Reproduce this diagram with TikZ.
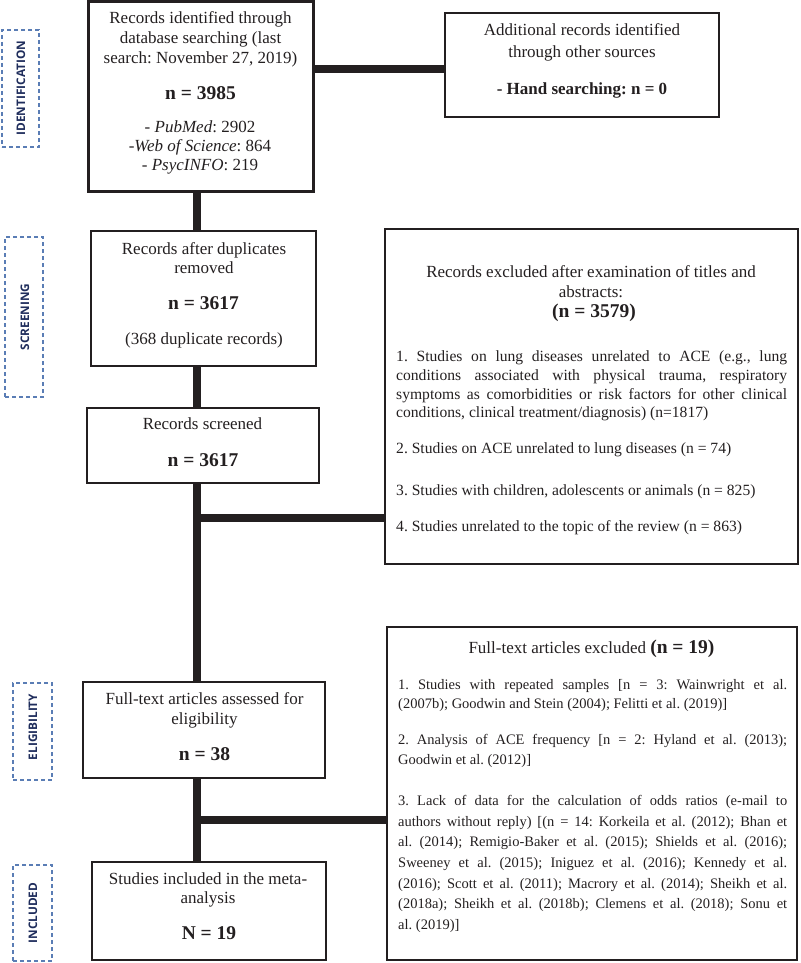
\documentclass[tikz,border=0pt]{standalone}
\usepackage{fontspec}
\setmainfont{Liberation Serif}
\newfontfamily\labelfont{Open Sans}
\definecolor{ink}{HTML}{231F20}
\definecolor{stagec}{HTML}{5A7DB5}
\definecolor{stagetext}{HTML}{1F2D5C}
\hyphenpenalty=10000
\frenchspacing
\begin{document}
\begin{tikzpicture}[x=1pt,y=-1pt,
  box/.style={draw=ink, line width=2.5pt, rectangle, inner sep=0pt},
  conn/.style={draw=ink, line width=7.5pt},
  stagebox/.style={draw=stagec, dash pattern=on 4pt off 3pt, line width=1.2pt, rectangle, inner sep=0pt},
  stagetxt/.style={text=stagetext, font=\labelfont\bfseries\fontsize{11.8}{13}\selectfont, rotate=90, inner sep=0pt},
  ttl/.style={text=ink, font=\fontsize{17}{20}\selectfont, align=center, anchor=north, inner sep=0pt},
  line1/.style={text=ink, font=\fontsize{17}{20}\selectfont, anchor=base, inner sep=0pt},
  num/.style={text=ink, font=\bfseries\fontsize{19.5}{22}\selectfont, anchor=base, inner sep=0pt},
  itemA/.style={text=ink, font=\fontsize{15.6}{18.7}\selectfont, inner sep=0pt},
  itemB/.style={text=ink, font=\fontsize{14.5}{20}\selectfont, inner sep=0pt},
]
\useasboundingbox (0,0) rectangle (800,963);

% stage labels
\node[stagebox, minimum width=37pt, minimum height=117pt] (s1) at (20.5,88.5) {};
\node[stagetxt] (s1t) at (21,88) {IDENTIFICATION};
\node[stagebox, minimum width=38pt, minimum height=160pt] (s2) at (24,317) {};
\node[stagetxt] (s2t) at (25,317) {SCREENING};
\node[stagebox, minimum width=39pt, minimum height=97pt] (s3) at (32.5,731.5) {};
\node[stagetxt] (s3t) at (33,727) {ELIGIBILITY};
\node[stagebox, minimum width=39pt, minimum height=96pt] (s4) at (32.5,913) {};
\node[stagetxt] (s4t) at (33,913) {INCLUDED};

% boxes
\node[box, line width=3pt, minimum width=225pt, minimum height=189pt] (b1) at (200.5,96.5) {};
\node[box, line width=2pt, minimum width=274pt, minimum height=104pt] (b2) at (582,65) {};
\node[box, minimum width=225pt, minimum height=135pt] (b3) at (203.5,298.5) {};
\node[box, minimum width=413pt, minimum height=335pt] (b4) at (591.5,396.5) {};
\node[box, minimum width=232pt, minimum height=75pt] (b5) at (203,445.5) {};
\node[box, minimum width=242pt, minimum height=96pt] (b6) at (204,730) {};
\node[box, minimum width=234pt, minimum height=98pt] (b7) at (209,911) {};
\node[box, minimum width=410pt, minimum height=333pt] (b8) at (592,793.5) {};

% connectors
\coordinate (tx) at (197,0);
\coordinate (j0) at (313,69);
\coordinate (j1) at (197,518);
\coordinate (j2) at (197,820);
\draw[conn] (j0 -| b1.east) -- (j0 -| b2.west);
\draw[conn] (tx |- b1.south) -- (tx |- b3.north);
\draw[conn] (tx |- b3.south) -- (tx |- b5.north);
\draw[conn] (tx |- b5.south) -- (tx |- b6.north);
\draw[conn] (tx |- b6.south) -- (tx |- b7.north);
\draw[conn] (j1) -- (j1 -| b4.west);
\draw[conn] (j2) -- (j2 -| b8.west);

% box 1
\node[ttl] (t1a) at (200.5,11.2) {Records identified through\\database searching (last\\search: November 27, 2019)};
\node[num] (t1b) at (200.5,99.5) {n = 3985};
\node[ttl, font=\fontsize{17}{19}\selectfont] (t1c) at (200,120.2) {- \textit{PubMed}: 2902\\-\textit{Web of Science}: 864\\- \textit{PsycINFO}: 219};

% box 2
\node[ttl, font=\fontsize{17}{22}\selectfont] (t2a) at (582,23.2) {Additional records identified\\through other sources};
\node[line1, font=\bfseries\fontsize{17}{20}\selectfont] (t2b) at (582,94.5) {- Hand searching: n = 0};

% box 3
\node[ttl, font=\fontsize{17}{19}\selectfont] (t3a) at (204,242.2) {Records after duplicates\\removed};
\node[num] (t3b) at (203.5,309.6) {n = 3617};
\node[line1] (t3c) at (204,344) {(368 duplicate records)};

% box 5
\node[line1] (t5a) at (202.5,429.6) {Records screened};
\node[num] (t5b) at (203,466.6) {n = 3617};

% box 4
\node[ttl] (t4a) at (591,265.2) {Records excluded after examination of titles and\\abstracts:};
\node[num] (t4b) at (594,317) {(n = 3579)};
\node[itemA, anchor=north west, text width=391pt, align=justify] (t4c) at (396,350.8) {1. Studies on lung diseases unrelated to ACE (e.g., lung\linebreak conditions associated with physical trauma, respiratory\linebreak symptoms as comorbidities or risk factors for other clinical\linebreak conditions, clinical treatment/diagnosis) (n=1817)};
\node[itemA, anchor=base west] (t4d) at (396,453) {2. Studies on ACE unrelated to lung diseases (n = 74)};
\node[itemA, anchor=base west] (t4e) at (396,495) {3. Studies with children, adolescents or animals (n = 825)};
\node[itemA, anchor=base west] (t4f) at (396,531) {4. Studies unrelated to the topic of the review (n = 863)};

% box 6
\node[ttl] (t6a) at (204.5,692.2) {Full-text articles assessed for\\eligibility};
\node[num] (t6b) at (204.5,760.6) {n = 38};

% box 7
\node[ttl, font=\fontsize{17}{19}\selectfont] (t7a) at (208,872.2) {Studies included in the meta-\\analysis};
\node[num] (t7b) at (209,939.6) {N = 19};

% box 8
\node[line1] (t8a) at (591.5,653.5) {Full-text articles excluded \textbf{\fontsize{19.5}{20}\selectfont(n = 19)}};
\node[itemB, font=\fontsize{14.5}{19}\selectfont, anchor=north west, text width=389pt, align=justify] (t8b) at (398,679.2) {1. Studies with repeated samples [n = 3: Wainwright et al.\linebreak (2007b); Goodwin and Stein (2004); Felitti et al. (2019)]};
\node[itemB, anchor=north west, text width=389pt, align=justify] (t8c) at (398,734.2) {2. Analysis of ACE frequency [n = 2: Hyland et al. (2013);\linebreak Goodwin et al. (2012)]};
\node[itemB, font=\fontsize{14.5}{20.6}\selectfont, anchor=north west, text width=389pt, align=justify] (t8d) at (398,795.2) {3. Lack of data for the calculation of odds ratios (e-mail to\linebreak authors without reply) [(n = 14: Korkeila et al. (2012); Bhan et\linebreak al. (2014); Remigio-Baker et al. (2015); Shields et al. (2016);\linebreak Sweeney et al. (2015); Iniguez et al. (2016); Kennedy et al.\linebreak (2016); Scott et al. (2011); Macrory et al. (2014); Sheikh et al.\linebreak (2018a); Sheikh et al. (2018b); Clemens et al. (2018); Sonu et\linebreak al. (2019)]};
\end{tikzpicture}
\end{document}
